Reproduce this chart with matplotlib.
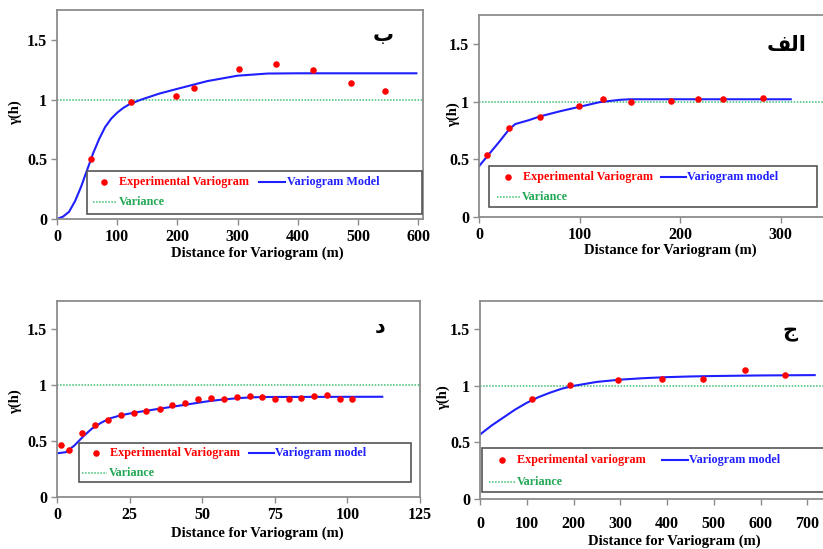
"""
Four variogram panels (experimental points, fitted model, variance line).
"""

import matplotlib
matplotlib.use("Agg")
import matplotlib.pyplot as plt
from matplotlib.patches import Rectangle
from matplotlib.lines import Line2D

# --- panel ب (top left) ---
b_lag = [56, 123, 198, 227, 302, 363, 425, 489, 545]
b_gamma = [0.50, 0.98, 1.03, 1.10, 1.26, 1.30, 1.25, 1.14, 1.07]
b_model_x = [0, 10, 20, 30, 40, 50, 60, 70, 80, 90, 100, 110, 120, 140,
             170, 200, 250, 300, 350, 400, 597]
b_model_y = [0, 0.02, 0.06, 0.15, 0.27, 0.41, 0.55, 0.67, 0.77, 0.84, 0.89,
             0.93, 0.96, 1.00, 1.05, 1.09, 1.155, 1.20, 1.218, 1.22, 1.22]

# --- panel الف (top right) ---
a_lag = [8, 30, 61, 99, 123, 151, 191, 218, 243, 282]
a_gamma = [0.54, 0.77, 0.87, 0.96, 1.02, 1.00, 1.005, 1.025, 1.02, 1.03]
a_model_x = [0, 10, 20, 30, 36, 50, 60, 80, 100, 120, 140, 150, 310]
a_model_y = [0.44, 0.545, 0.65, 0.76, 0.805, 0.84, 0.87, 0.915, 0.955,
             0.995, 1.015, 1.02, 1.02]

# --- panel د (bottom left) ---
d_lag = [1.5, 4.1, 8.5, 13.1, 17.6, 22.2, 26.5, 30.8, 35.3, 39.6, 44.1,
         48.6, 53.1, 57.6, 61.9, 66.3, 70.7, 75.2, 79.8, 84.0, 88.6, 92.9,
         97.3, 101.7]
d_gamma = [0.46, 0.42, 0.57, 0.64, 0.69, 0.73, 0.75, 0.77, 0.79, 0.82,
           0.84, 0.875, 0.885, 0.875, 0.89, 0.90, 0.89, 0.875, 0.875, 0.885,
           0.905, 0.91, 0.875, 0.875]
d_model_x = [0, 3, 6, 9, 12, 15, 18, 22, 27, 32, 37, 42, 47, 52, 57, 62,
             67, 72, 112]
d_model_y = [0.39, 0.40, 0.46, 0.54, 0.61, 0.66, 0.70, 0.73, 0.755, 0.775,
             0.795, 0.815, 0.835, 0.855, 0.87, 0.882, 0.89, 0.893, 0.895]

# --- panel ج (bottom right) ---
c_lag = [111, 193, 296, 389, 476, 566, 653]
c_gamma = [0.885, 1.01, 1.05, 1.065, 1.065, 1.14, 1.095]
c_model_x = [0, 25, 50, 75, 100, 125, 150, 175, 200, 250, 300, 350, 400,
             450, 500, 600, 716]
c_model_y = [0.57, 0.65, 0.72, 0.79, 0.85, 0.90, 0.94, 0.975, 1.00, 1.035,
             1.055, 1.068, 1.077, 1.083, 1.087, 1.092, 1.095]

VARIANCE = 1.0
Y_TICKS = [0, 0.5, 1, 1.5]
Y_TICK_LABELS = ["0", "0.5", "1", "1.5"]

W, H = 823, 549
SERIF = "Liberation Serif"
C_RED = "#FF0000"
C_BLUE = "#1F1FFF"
C_GREEN = "#3CC070"
C_GREEN_TXT = "#22A855"
C_SPINE = "#8C8C8C"


def _axes(fig, left, top, right, bottom):
    return fig.add_axes([left / W, 1 - bottom / H, (right - left) / W, (bottom - top) / H])


def _panel(ax, lag, gamma, mx, my, xlim, xticks, xpad=3):
    ax.axhline(VARIANCE, color=C_GREEN, ls=(0, (1, 1)), lw=1.1, zorder=1)
    ax.plot(mx, my, color=C_BLUE, lw=1.5, zorder=2)
    ax.plot(lag, gamma, "o", color=C_RED, ms=4.7, mec="none", zorder=3)
    ax.set_xlim(*xlim)
    ax.set_ylim(0, 1.75)
    ax.set_xticks(xticks)
    ax.set_xticklabels([str(t) for t in xticks])
    ax.set_yticks(Y_TICKS)
    ax.set_yticklabels(Y_TICK_LABELS)
    for s in ax.spines.values():
        s.set_color(C_SPINE)
        s.set_linewidth(1.3)
    ax.tick_params(direction="out", length=4, width=1, color=C_SPINE, pad=3)
    ax.tick_params(axis="x", pad=xpad)
    for lab in ax.get_xticklabels() + ax.get_yticklabels():
        lab.set_fontfamily(SERIF)
        lab.set_fontweight("bold")
        lab.set_fontsize(11.5)


def _legend(ov, box, row1, row2, mark_x, t1_x, seg, t2_x, dot_seg, label1, label2):
    x0, y0, x1, y1 = box
    ov.add_patch(Rectangle((x0, y0), x1 - x0, y1 - y0, facecolor="white",
                           edgecolor="#555555", lw=1.2, zorder=5))
    txt = dict(fontfamily=SERIF, fontweight="bold", fontsize=8.7, va="center", zorder=6)
    ov.plot([mark_x], [row1], "o", color=C_RED, ms=4.7, mec="none", zorder=6)
    ov.text(t1_x, row1, label1, color=C_RED, **txt)
    ov.add_line(Line2D(seg, [row1, row1], color=C_BLUE, lw=1.5, zorder=6))
    ov.text(t2_x, row1, label2, color=C_BLUE, **txt)
    ov.add_line(Line2D(dot_seg, [row2, row2], color=C_GREEN, lw=1.1,
                       ls=(0, (1, 1)), zorder=6))
    ov.text(dot_seg[1] + 2, row2, "Variance", color=C_GREEN_TXT, **txt)


def main():
    fig = plt.figure(figsize=(W / 100, H / 100), dpi=100)
    fig.patch.set_facecolor("white")

    ax_b = _axes(fig, 57, 10, 423, 219)
    _panel(ax_b, b_lag, b_gamma, b_model_x, b_model_y, (0, 608), [0, 100, 200, 300, 400, 500, 600])
    ax_a = _axes(fig, 479, 15, 831, 217)
    _panel(ax_a, a_lag, a_gamma, a_model_x, a_model_y, (0, 350), [0, 100, 200, 300])
    ax_d = _axes(fig, 57, 301, 420, 497)
    _panel(ax_d, d_lag, d_gamma, d_model_x, d_model_y, (0, 125), [0, 25, 50, 75, 100, 125], xpad=3)
    ax_c = _axes(fig, 480, 301, 854, 499)
    _panel(ax_c, c_lag, c_gamma, c_model_x, c_model_y, (0, 800),
           [0, 100, 200, 300, 400, 500, 600, 700], xpad=8)

    # overlay in pixel coordinates for legends and labels
    ov = fig.add_axes([0, 0, 1, 1])
    ov.set_xlim(0, W)
    ov.set_ylim(H, 0)
    ov.axis("off")
    ov.patch.set_alpha(0)

    _legend(ov, (87, 171, 422, 214), 182, 202, 104, 119, [259, 285], 287, [93, 117],
            "Experimental Variogram", "Variogram Model")
    _legend(ov, (489, 166, 817, 207), 177, 197, 508, 523, [661, 686], 687, [497, 520],
            "Experimental Variogram", "Variogram model")
    _legend(ov, (79, 443, 411, 482), 453, 473, 96, 110, [249, 274], 275, [82, 107],
            "Experimental Variogram", "Variogram model")
    _legend(ov, (482, 448, 840, 492), 460, 482, 502, 517, [662, 688], 689, [489, 515],
            "Experimental variogram", "Variogram model")

    lab = dict(fontfamily=SERIF, fontweight="bold", fontsize=10.5, ha="center", va="center")
    for x, y in [(257, 253), (670, 250), (257, 533), (674, 541)]:
        ov.text(x, y, "Distance for Variogram (m)", **lab)
    for x, y in [(15, 113), (453, 115), (15, 402), (443, 398)]:
        ov.text(x, y, "γ(h)", rotation=90, **lab)

    ar = dict(fontfamily="DejaVu Sans", fontweight="bold", fontsize=15, ha="center", va="center")
    ov.text(383, 35, "ب", **ar)
    ov.text(787, 45, "\uFED2\uFEDF\uFE8D", **ar)  # الف, pre-shaped
    ov.text(380, 327, "د", **ar)
    ov.text(790, 332, "ج", **ar)

    fig.savefig("out.png", dpi=100)
    plt.close(fig)


if __name__ == "__main__":
    main()
